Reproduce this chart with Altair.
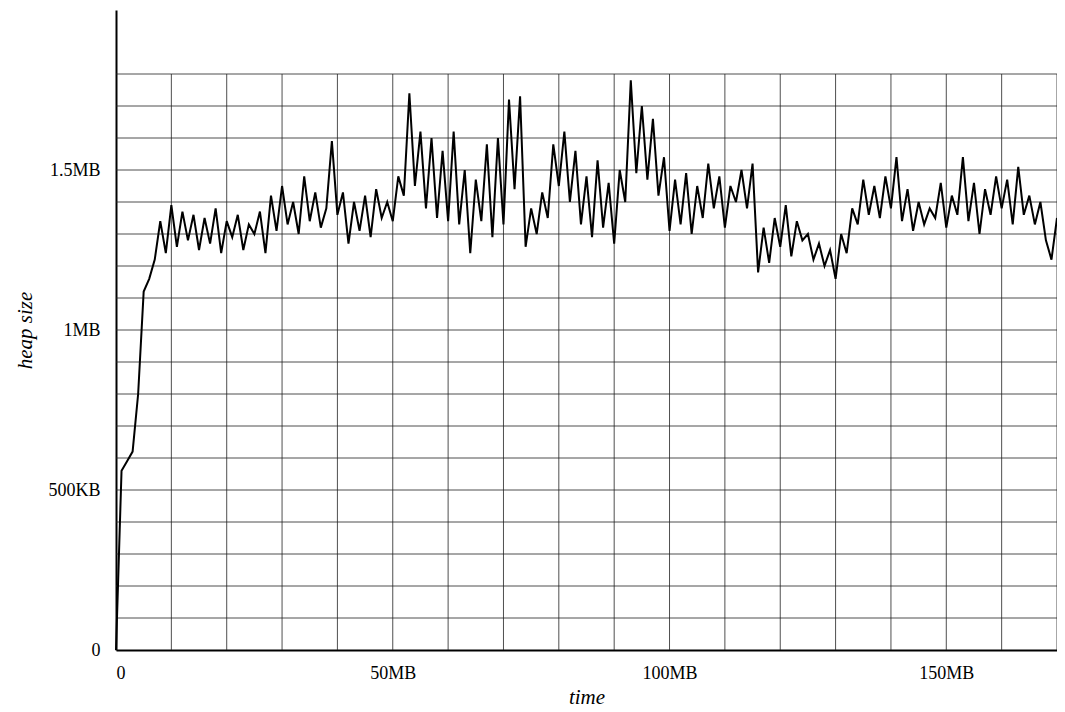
import altair as alt
import pandas as pd

# heap size in KB, sampled every 1MB of allocation
heap_kb = [
    0, 560, 590, 620, 800, 1120, 1160, 1220, 1340, 1240,
    1390, 1260, 1370, 1280, 1360, 1250, 1350, 1270, 1380, 1240,
    1340, 1290, 1360, 1250, 1330, 1300, 1370, 1240, 1420, 1310,
    1450, 1330, 1400, 1300, 1480, 1340, 1430, 1320, 1380, 1590,
    1360, 1430, 1270, 1400, 1310, 1420, 1290, 1440, 1350, 1400,
    1340, 1480, 1420, 1740, 1450, 1620, 1380, 1600, 1350, 1560,
    1340, 1620, 1330, 1500, 1240, 1470, 1340, 1580, 1290, 1600,
    1330, 1720, 1440, 1730, 1260, 1380, 1300, 1430, 1350, 1580,
    1450, 1620, 1400, 1560, 1330, 1480, 1290, 1530, 1320, 1460,
    1270, 1500, 1400, 1780, 1490, 1700, 1470, 1660, 1420, 1540,
    1310, 1470, 1330, 1490, 1300, 1450, 1350, 1520, 1380, 1480,
    1320, 1450, 1400, 1500, 1380, 1520, 1180, 1320, 1210, 1350,
    1260, 1390, 1230, 1340, 1280, 1300, 1220, 1270, 1200, 1250,
    1160, 1300, 1240, 1380, 1330, 1470, 1360, 1450, 1350, 1480,
    1380, 1540, 1340, 1440, 1310, 1400, 1330, 1380, 1350, 1460,
    1320, 1420, 1360, 1540, 1340, 1460, 1300, 1440, 1360, 1480,
    1380, 1470, 1330, 1510, 1360, 1420, 1330, 1400, 1280, 1220,
    1350,
]
time_mb = list(range(len(heap_kb)))

grid_x = list(range(10, 171, 10))
grid_y = list(range(100, 1801, 100))

FONT = "Liberation Serif"

df = pd.DataFrame({"time": time_mb, "heap": heap_kb})
vgrid = pd.DataFrame({"x": grid_x, "y0": 0, "y1": 1800})
hgrid = pd.DataFrame({"y": grid_y, "x0": 0, "x1": 170})

xs = alt.Scale(domain=[0, 170], nice=False, zero=True)
ys = alt.Scale(domain=[0, 2000], nice=False)

v_rules = alt.Chart(vgrid).mark_rule(color="#222", strokeWidth=0.8).encode(
    x=alt.X("x:Q", scale=xs),
    y=alt.Y("y0:Q", scale=ys),
    y2="y1:Q",
)
h_rules = alt.Chart(hgrid).mark_rule(color="#222", strokeWidth=0.8).encode(
    y=alt.Y("y:Q", scale=ys),
    x=alt.X("x0:Q", scale=xs),
    x2="x1:Q",
)

line = alt.Chart(df).mark_line(color="black", strokeWidth=2).encode(
    x=alt.X(
        "time:Q", scale=xs, title="time",
        axis=alt.Axis(values=[0, 50, 100, 150], grid=False, ticks=False,
                      labelExpr="datum.value == 0 ? '0' : datum.value + 'MB'",
                      labelPadding=14, titlePadding=4),
    ),
    y=alt.Y(
        "heap:Q", scale=ys, title="heap size",
        axis=alt.Axis(values=[0, 500, 1000, 1500], grid=False, ticks=False,
                      labelExpr="datum.value == 0 ? '0' : datum.value < 1000 ? datum.value + 'KB' : (datum.value / 1000) + 'MB'",
                      labelPadding=16, titlePadding=12),
    ),
)

chart = alt.layer(v_rules, h_rules, line).properties(
    width=941,
    height=640,
    autosize=alt.AutoSizeParams(type="none"),
    padding={"left": 108, "top": 2, "right": 0, "bottom": 58},
).configure_view(stroke=None).configure_axis(
    domainColor="black", domainWidth=2,
    labelFont=FONT, labelFontSize=18, labelColor="black",
    titleFont=FONT, titleFontSize=21, titleFontStyle="italic",
    titleFontWeight="normal", titleColor="black",
)

chart.save("out.html", embed_options={"renderer": "svg", "actions": False})
